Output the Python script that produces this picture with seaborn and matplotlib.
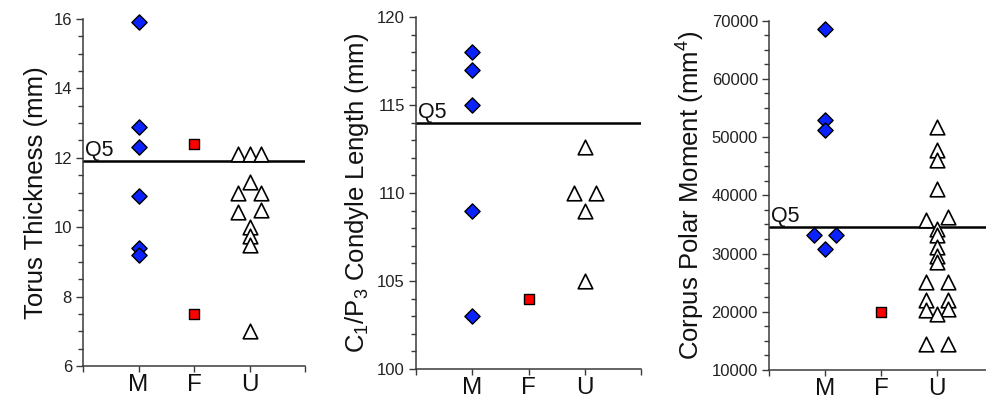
import matplotlib
matplotlib.use("Agg")
import matplotlib.pyplot as plt
import seaborn as sns
import pandas as pd
from matplotlib.ticker import MultipleLocator, FixedLocator

sns.set_theme(style="white")
plt.rcParams['font.family'] = ['Liberation Sans', 'DejaVu Sans']
plt.rcParams['mathtext.fontset'] = 'custom'
plt.rcParams['mathtext.rm'] = 'Liberation Sans'

groups = ["M", "F", "U"]

# Panel 1: Torus thickness (mm)
torus_M = [15.9, 12.9, 12.3, 10.9, 9.4, 9.2]
torus_F = [12.4, 7.5]
torus_U = [12.1, 12.1, 12.1, 11.3, 11.0, 11.0, 10.5, 10.45, 10.0, 9.75, 9.5, 7.0]
torus_U_col = [-1, 0, 1, 0, -1, 1, 1, -1, 0, 0, 0, 0]
torus_Q5 = 11.9

# Panel 2: C1/P3 condyle length (mm)
condyle_M = [118, 117, 115, 109, 103]
condyle_F = [104]
condyle_U = [112.6, 110, 110, 109, 105]
condyle_U_col = [0, -1, 1, 0, 0]
condyle_Q5 = 114

# Panel 3: Corpus polar moment (mm^4)
polar_M = [68500, 52900, 51300, 33200, 33200, 30700]
polar_M_col = [0, 0, 0, -1, 1, 0]
polar_F = [19900]
polar_U = [51800, 47800, 46100, 41150, 35800, 36200, 34300, 33200, 31150,
           29500, 28600, 25100, 25100, 22000, 22100, 20300, 20400, 19700,
           14500, 14500]
polar_U_col = [0, 0, 0, 0, -1, 1, 0, 0, 0, 0, 0, -1, 1, -1, 1, -1, 1, 0, -1, 1]
polar_Q5 = 34500

W, H = 986, 404
fig = plt.figure(figsize=(W / 100, H / 100), dpi=100)

OFF = 0.2
spine_col = "#3a3a3a"


def make_df(m, f, u, m_col=None, u_col=None):
    m_col = m_col or [0] * len(m)
    u_col = u_col or [0] * len(u)
    rows = []
    for v, c in zip(m, m_col):
        rows.append(("M", 0 + c * OFF, v))
    for v in f:
        rows.append(("F", 1, v))
    for v, c in zip(u, u_col):
        rows.append(("U", 2 + c * OFF, v))
    return pd.DataFrame(rows, columns=["group", "x", "value"])


def panel(rect, df, q5, ylim, major, minor, ylabel, xmax, fmt=None):
    ax = fig.add_axes(rect)
    sns.scatterplot(data=df[df.group == "M"], x="x", y="value", ax=ax,
                    marker="D", s=60, color="#0a22ff", edgecolor="black",
                    linewidth=1.0, zorder=3, legend=False, clip_on=False)
    sns.scatterplot(data=df[df.group == "F"], x="x", y="value", ax=ax,
                    marker="s", s=54, color="#ff0000", edgecolor="black",
                    linewidth=1.0, zorder=3, legend=False, clip_on=False)
    sns.scatterplot(data=df[df.group == "U"], x="x", y="value", ax=ax,
                    marker="^", s=110, color="white", edgecolor="black",
                    linewidth=1.2, zorder=3, legend=False, clip_on=False)
    ax.axhline(q5, color="black", lw=1.8, zorder=2)
    ax.text(-0.97, q5, "Q5", fontsize=15.5, ha="left", va="bottom",
            color="#111111")
    ax.set_xlim(-1, xmax)
    ax.set_ylim(*ylim)
    ax.yaxis.set_major_locator(MultipleLocator(major))
    ax.yaxis.set_minor_locator(MultipleLocator(minor))
    ticks = [t for t in [-1, 0, 1, 2, 3] if t <= xmax]
    ax.xaxis.set_major_locator(FixedLocator(ticks))
    labels = ["", "M", "F", "U", ""][:len(ticks)]
    ax.set_xticklabels(labels)
    if fmt:
        ax.set_yticklabels([fmt(t) for t in ax.get_yticks()])
    ax.set_xlabel("")
    ax.set_ylabel(ylabel, fontsize=18.5, color="#111111", labelpad=4)
    for s in ["top", "right"]:
        ax.spines[s].set_visible(False)
    for s in ["left", "bottom"]:
        ax.spines[s].set_color(spine_col)
        ax.spines[s].set_linewidth(1.1)
    ax.tick_params(axis="y", which="major", direction="out", length=5,
                   width=1.0, color=spine_col, labelsize=12, pad=3,
                   labelcolor="#222222", left=True)
    ax.tick_params(axis="y", which="minor", direction="out", length=3.5,
                   width=1.0, color=spine_col, left=True)
    ax.tick_params(axis="x", which="major", direction="out", length=4.5,
                   width=1.0, color=spine_col, labelsize=17.5, pad=1.5,
                   labelcolor="#111111", bottom=True)
    ax.set_facecolor("none")
    return ax


def r(left, right, top, bottom):
    return [left / W, (H - bottom) / H, (right - left) / W, (bottom - top) / H]


df1 = make_df(torus_M, torus_F, torus_U, None, torus_U_col)
panel(r(83, 305, 19, 366), df1, torus_Q5, (6, 16), 2, 0.5,
      "Torus Thickness (mm)", 3)

df2 = make_df(condyle_M, condyle_F, condyle_U, None, condyle_U_col)
panel(r(416, 641, 17, 369), df2, condyle_Q5, (100, 120), 5, 1,
      r"C$_\mathregular{1}$/P$_\mathregular{3}$ Condyle Length (mm)", 3)

df3 = make_df(polar_M, polar_F, polar_U, polar_M_col, polar_U_col)
panel(r(769, 986, 20.7, 370), df3, polar_Q5, (10000, 70000), 10000, 2500,
      r"Corpus Polar Moment (mm$^\mathregular{4}$)", 2.875,
      fmt=lambda t: f"{int(t)}")

fig.savefig("out.png", dpi=100)
